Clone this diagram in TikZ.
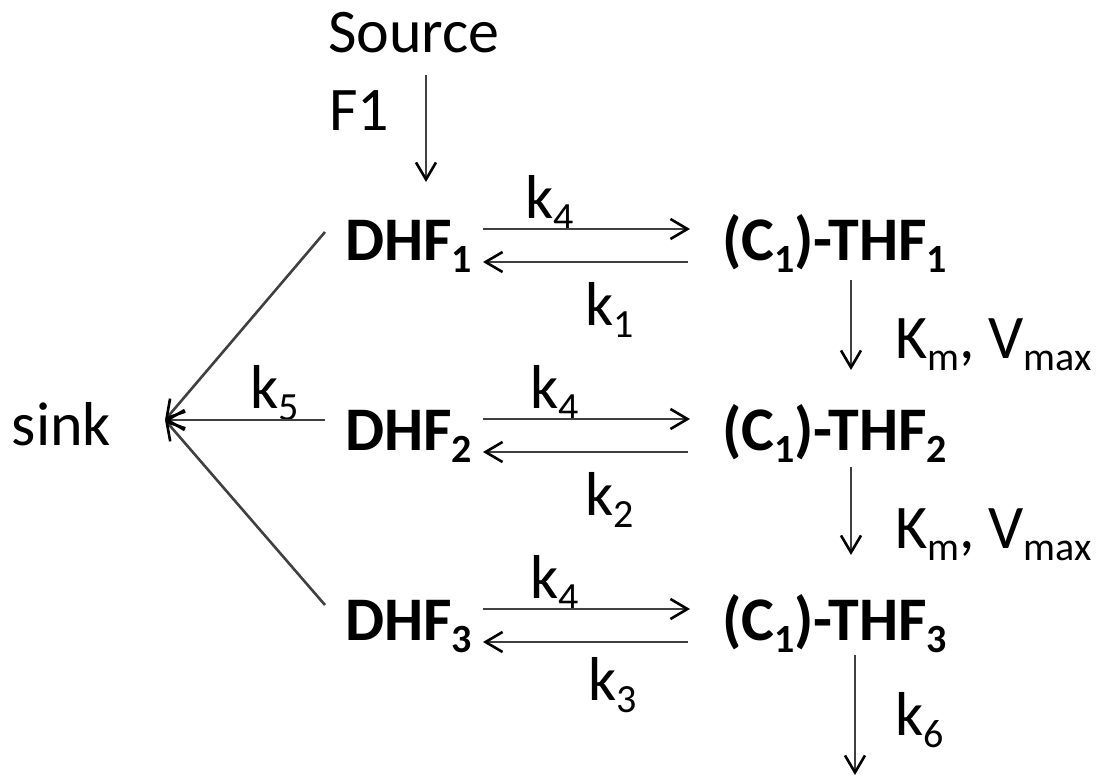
\documentclass[tikz,border=0pt]{standalone}
\usepackage{fontspec}
\setmainfont{Carlito}
\usetikzlibrary{arrows.meta,calc}
\newcommand\sbs[1]{\raisebox{-0.2em}{\fontsize{40}{40}\selectfont #1}}
\begin{document}
\begin{tikzpicture}[x=1pt,y=-1pt,
  lbl/.style={inner sep=0,outer sep=0,anchor=base west,font=\fontsize{62}{70}\selectfont},
  spc/.style={lbl,font=\fontsize{62}{70}\selectfont\bfseries},
  arr/.style={draw=black!75,line width=2.6pt,-{Straight Barb[length=17pt,width=20pt,line width=2.6pt,color=black]}}]
\useasboundingbox (0,0) rectangle (1104,780);
% labels / species
\node[lbl] (src) at (328,52) {Source};
\node[lbl] (f1) at (329,130) {F1};
\node[spc] (d1) at (345,260) {DHF\sbs{1}};
\node[spc] (d2) at (345,450) {DHF\sbs{2}};
\node[spc] (d3) at (345,640) {DHF\sbs{3}};
\node[spc] (t1) at (722,260) {(C\sbs{1})-THF\sbs{1}};
\node[spc] (t2) at (722,450) {(C\sbs{1})-THF\sbs{2}};
\node[spc] (t3) at (722,640) {(C\sbs{1})-THF\sbs{3}};
\node[lbl] (sink) at (12,445) {sink};
% rate labels
\node[lbl] (k4a) at (525,218) {k\sbs{4}};
\node[lbl] (k4b) at (530,408) {k\sbs{4}};
\node[lbl] (k4c) at (530,598) {k\sbs{4}};
\node[lbl] (k1) at (585,325) {k\sbs{1}};
\node[lbl] (k2) at (585,515) {k\sbs{2}};
\node[lbl] (k3) at (588,700) {k\sbs{3}};
\node[lbl] (k5) at (250,408) {k\sbs{5}};
\node[lbl] (k6) at (895,735) {k\sbs{6}};
\node[lbl] (km1) at (895,358) {K\sbs{m}, V\sbs{max}};
\node[lbl] (km2) at (895,548) {K\sbs{m}, V\sbs{max}};
\coordinate (drain) at (855,775);
% source inflow
\draw[arr] ($(src.base west)+(98,23)$) -- ($(d1.base west)+(81,-78)$);
% reversible reactions
\foreach \r in {1,2,3}{
  \draw[arr] ($(d\r.base west)+(138,-31)$) -- ($(t\r.base west)+(-32,-31)$);
  \draw[arr] ($(t\r.base west)+(-34,2)$) -- ($(d\r.base west)+(138,2)$);
}
% to sink
\coordinate (tip) at ($(sink.base west)+(153,-25)$);
\draw[arr] ($(d1.base west)+(-20,-28)$) -- (tip);
\draw[arr] ($(d2.base west)+(-20,-30)$) -- (tip);
\draw[arr] ($(d3.base west)+(-20,-35)$) -- (tip);
% THF cascade
\draw[arr] ($(t1.base west)+(129,20)$) -- ($(t2.base west)+(129,-80)$);
\draw[arr] ($(t2.base west)+(129,17)$) -- ($(t3.base west)+(129,-85)$);
\draw[arr] ($(t3.base west)+(133,15)$) -- (drain);
\end{tikzpicture}
\end{document}
